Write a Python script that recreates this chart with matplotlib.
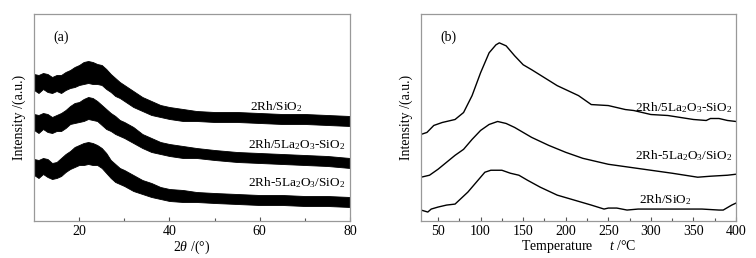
import numpy as np
import matplotlib.pyplot as plt

plt.rcParams['font.family'] = ['Liberation Serif', 'DejaVu Serif']
plt.rcParams['mathtext.fontset'] = 'custom'
plt.rcParams['mathtext.rm'] = 'Liberation Serif'
plt.rcParams['mathtext.it'] = 'Liberation Serif:italic'

# (a) XRD, centre of each noisy band (a.u.)
xrd_x = [10, 11, 12, 13, 14, 15, 16, 17, 18, 19, 20, 21, 22, 23, 24, 25, 26, 27, 28, 29, 30,
         32, 34, 36, 38, 40, 43, 46, 50, 55, 60, 65, 70, 75, 80]
xrd_rh = [139, 137, 140, 138, 136, 138, 137, 140, 142, 144, 146, 148, 149, 148, 147, 146, 142, 138,
          134, 131, 128, 122, 117, 113, 110, 108, 106, 105, 104, 104, 103, 102, 102, 101, 100]
xrd_rh_la_si = [99, 97, 100, 98, 96, 98, 99, 102, 106, 108, 109, 111, 113, 112, 110, 106, 102, 99,
                96, 93, 91, 86, 80, 76, 73, 71, 69, 68, 66, 64, 63, 62, 61, 60, 58]
xrd_rh_la = [54, 52, 55, 53, 50, 51, 54, 58, 61, 64, 66, 67, 68, 67, 66, 63, 58, 52,
             48, 45, 43, 38, 34, 31, 28, 26, 25, 24, 23, 22, 21, 21, 20, 20, 19]
# half thickness of the noise band
xrd_noise = [8, 9, 8, 9, 8, 8, 9, 9, 9, 10, 10, 11, 11, 11, 10, 10, 10, 9,
             9, 8, 8, 8, 7, 7, 6, 6, 6, 5, 5, 5, 5, 5, 5, 5, 5]

# (b) H2-TPR
t_top = [30, 37, 45, 55, 70, 80, 90, 100, 110, 118, 122, 130, 140, 150, 160, 175, 190, 200,
         215, 230, 250, 270, 280, 300, 320, 350, 365, 370, 380, 390, 400]
tpr_rh_la_si = [87, 89, 96, 99, 102, 109, 126, 149, 169, 177, 179, 176, 166, 157, 152, 144, 136, 132,
                126, 117, 116, 112, 111, 107, 106, 102, 101, 103, 103, 101, 100]
t_mid = [30, 40, 50, 60, 70, 80, 90, 100, 110, 120, 130, 140, 150, 160, 180, 200, 220, 250,
         275, 300, 325, 340, 355, 370, 390, 400]
tpr_rh_la = [44, 46, 52, 59, 66, 72, 82, 91, 97, 100, 98, 94, 89, 84, 76, 69, 63, 57,
             54, 51, 48, 46, 44, 45, 46, 47]
t_bot = [30, 38, 42, 50, 60, 70, 75, 85, 95, 105, 112, 120, 125, 135, 145, 155, 170, 190, 210,
         230, 245, 250, 260, 272, 285, 300, 320, 340, 360, 380, 385, 395, 400]
tpr_rh = [11, 9, 12, 14, 16, 17, 21, 29, 39, 49, 51, 51, 51, 48, 46, 41, 34, 26, 21,
          16, 12, 13, 13, 11, 12, 12, 12, 12, 12, 11, 11, 16, 18]

lab_rh = '2Rh/SiO$_2$'
lab_rh_la_si = '2Rh/5La$_2$O$_3$-SiO$_2$'
lab_rh_la = '2Rh-5La$_2$O$_3$/SiO$_2$'

fig = plt.figure(figsize=(7.56, 2.58), dpi=100)
ax1 = fig.add_axes([34 / 756, 1 - 221 / 258, 316 / 756, 207 / 258])
ax2 = fig.add_axes([421 / 756, 1 - 221 / 258, 315 / 756, 207 / 258])

for ax in (ax1, ax2):
    for s in ax.spines.values():
        s.set_color('#999999')
        s.set_linewidth(0.9)
    ax.set_yticks([])
    ax.tick_params(axis='x', direction='in', length=3, width=0.8, color='#555555',
                   labelsize=10, pad=3)
    ax.tick_params(axis='x', which='minor', direction='in', length=2, width=0.8, color='#555555')
    ax.set_ylabel('Intensity /(a.u.)', fontsize=10, labelpad=6)

# (a)
noise = np.array(xrd_noise)
for y in (xrd_rh, xrd_rh_la_si, xrd_rh_la):
    y = np.array(y)
    ax1.fill_between(xrd_x, y - noise, y + noise, color='black', lw=0.6)
ax1.set_xlim(10, 80)
ax1.set_ylim(0, 207)
ax1.set_xticks([20, 40, 60, 80])
ax1.set_xticks([30, 50, 70], minor=True)
ax1.set_xlabel(r'2$\it{\theta}$ /(°)', fontsize=10, labelpad=0)
ax1.text(0.06, 0.87, '(a)', transform=ax1.transAxes, fontsize=10)
ax1.text(63.7, 114, lab_rh, fontsize=9.5, ha='center', va='center')
ax1.text(79, 76, lab_rh_la_si, fontsize=9.5, ha='right', va='center')
ax1.text(79, 38, lab_rh_la, fontsize=9.5, ha='right', va='center')

# (b)
ax2.plot(t_top, tpr_rh_la_si, color='black', lw=1.0)
ax2.plot(t_mid, tpr_rh_la, color='black', lw=1.0)
ax2.plot(t_bot, tpr_rh, color='black', lw=1.0)
ax2.set_xlim(30, 400)
ax2.set_ylim(0, 208)
ax2.set_xticks(range(50, 401, 50))
ax2.set_xticks(range(75, 400, 50), minor=True)
ax2.set_xlabel(r'Temperature     $\it{t}$ /°C', fontsize=10, labelpad=0)
ax2.text(0.06, 0.87, '(b)', transform=ax2.transAxes, fontsize=10)
ax2.text(395, 114, lab_rh_la_si, fontsize=9.5, ha='right', va='center')
ax2.text(395, 66, lab_rh_la, fontsize=9.5, ha='right', va='center')
ax2.text(317, 22, lab_rh, fontsize=9.5, ha='center', va='center')

fig.savefig('out.png', dpi=100)
